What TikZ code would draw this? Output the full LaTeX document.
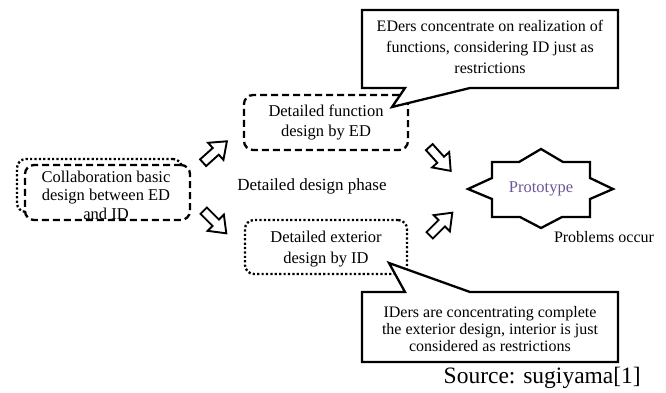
\documentclass[tikz,border=0pt]{standalone}
\usepackage{fontspec}
\setmainfont{Liberation Serif}
\definecolor{protopurple}{RGB}{110,85,150}
\begin{document}
\begin{tikzpicture}[x=1pt,y=-1pt,
  boxtxt/.style={font=\fontsize{16.5}{20.5}\selectfont, align=center, inner sep=0pt},
  dashbox/.style={draw, line width=2.3pt, dash pattern=on 7pt off 4pt, rounded corners=9pt, fill=white},
  dotbox/.style={draw, line width=2.3pt, dash pattern=on 2.2pt off 2.2pt, rounded corners=9pt, fill=white},
  calloutshape/.style={draw, fill=white, line width=2.3pt, line join=miter},
  barrow/.pic={\draw[line width=1.9pt, line join=miter, fill=white]
     (-16,-4.5)--(1,-4.5)--(1,-11.5)--(16,0)--(1,11.5)--(1,4.5)--(-16,4.5)--cycle;},
]
\useasboundingbox (0,0) rectangle (666,392);

% left collaboration box (dotted behind, dashed in front)
\node[dotbox, minimum width=165, minimum height=53] (collabshadow) at (99.5,185.5) {};
\node[dashbox, minimum width=165, minimum height=55] (collab) at (107.5,192.5) {};
\node[boxtxt, font=\fontsize{16.5}{18.5}\selectfont] (collabtxt) at (106,195) {Collaboration basic\\design between ED\\and ID};

% detailed boxes
\node[dashbox, minimum width=164, minimum height=55] (fbox) at (326,122.5) {};
\node[boxtxt] (ftxt) at (fbox) {Detailed function\\design by ED};
\node[dotbox, minimum width=162, minimum height=54] (xbox) at (326,247) {};
\node[boxtxt] (xtxt) at (326,249) {Detailed exterior\\design by ID};

\node[font=\fontsize{17}{20}\selectfont, inner sep=0pt] (phase) at (312,186) {Detailed design phase};

% block arrows
\pic[rotate=42] at (215,152) {barrow};
\pic[rotate=-45] at (215,222) {barrow};
\pic[rotate=-48] at (440,159) {barrow};
\pic[rotate=45] at (441,224) {barrow};

% prototype star
\coordinate (sc) at (541,189);
\draw[line width=2.3pt, line join=miter, fill=white, shift={(sc)}]
  (0,-40) -- (22,-27) -- (49,-27) -- (49,-11) -- (72,0) -- (49,10) -- (49,28) -- (21,28)
  -- (0,39) -- (-21,28) -- (-49,28) -- (-49,10) -- (-73,0) -- (-49,-11) -- (-49,-27) -- (-22,-27) -- cycle;
\node[font=\fontsize{16.5}{18}\selectfont, text=protopurple, inner sep=0pt] (proto) at (sc) {Prototype};
\node[font=\fontsize{16}{18}\selectfont, inner sep=0pt] (problems) at (604,237) {Problems occur};

% callouts
\coordinate (tip1) at (392,107);
\path[calloutshape] (362,10) -- (618,10) -- (618,88) -- (470,88) -- (tip1) -- (405,88) -- (362,88) -- cycle;
\node[font=\fontsize{16}{21}\selectfont, align=center, inner sep=0pt] (call1) at (490,46.5)
  {EDers concentrate on realization of\\functions, considering ID just as\\restrictions};

\coordinate (tip2) at (389,263);
\path[calloutshape] (362,292) -- (405,292) -- (tip2) -- (470,292) -- (618,292) -- (618,362) -- (362,362) -- cycle;
\node[font=\fontsize{16}{17}\selectfont, align=center, inner sep=0pt] (call2) at (490,329)
  {IDers are concentrating complete\\the exterior design, interior is just\\considered as restrictions};

\node[font=\fontsize{23.5}{25}\selectfont, anchor=east, inner sep=0pt] (source) at (641,378) {Source: sugiyama[1]};
\end{tikzpicture}
\end{document}
